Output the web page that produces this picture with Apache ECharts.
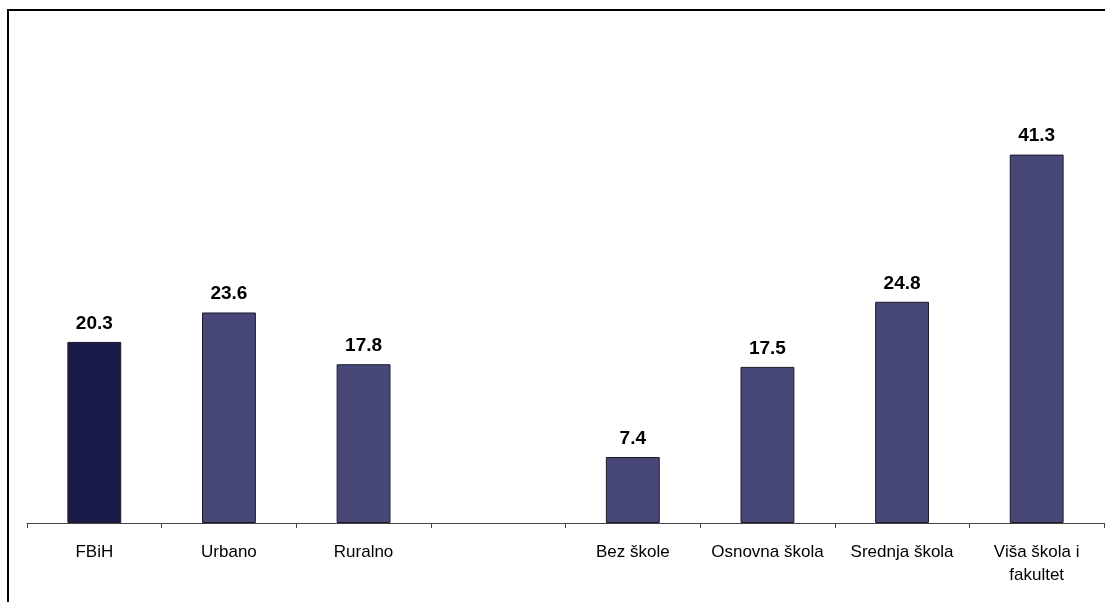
<!DOCTYPE html>
<html>
<head>
<meta charset="utf-8">
<script src="https://cdn.jsdelivr.net/npm/echarts@6/dist/echarts.min.js"></script>
<style>html,body{margin:0;padding:0;background:#fff;}#c{width:1105px;height:602px;}</style>
</head>
<body>
<div id="c"></div>
<script>
const categories = ["FBiH", "Urbano", "Ruralno", "", "Bez škole", "Osnovna škola", "Srednja škola", "Viša škola i\nfakultet"];
const values = [20.3, 23.6, 17.8, null, 7.4, 17.5, 24.8, 41.3];
const highlightIndex = 0;

const chart = echarts.init(document.getElementById('c'), null, {renderer: 'canvas'});
chart.setOption({
  animation: false,
  backgroundColor: '#fff',
  graphic: [{
    type: 'rect', shape: {x: 8, y: 10, width: 1300, height: 800},
    style: {fill: 'none', stroke: '#000', lineWidth: 2}, z: 100
  }],
  grid: {left: 27, right: 1, top: 77, bottom: 79, containLabel: false},
  xAxis: {
    type: 'category', data: categories,
    axisLine: {lineStyle: {color: '#444', width: 1}},
    axisTick: {show: true, length: 5, alignWithLabel: false, lineStyle: {color: '#444'}},
    axisLabel: {color: '#000', fontFamily: 'Liberation Sans, Arial', fontSize: 17, margin: 18, lineHeight: 23, interval: 0}
  },
  yAxis: {type: 'value', min: 0, max: 50, show: false, splitLine: {show: false}},
  series: [{
    type: 'bar', barWidth: '40%',
    data: values.map((v, i) => ({value: v, itemStyle: {color: i === highlightIndex ? '#1a1a48' : '#484878'}})),
    itemStyle: {borderColor: '#1a1a2a', borderWidth: 1},
    label: {show: true, position: 'top', distance: 9, color: '#000', fontWeight: 'bold', fontSize: 19, fontFamily: 'Liberation Sans, Arial', formatter: p => p.value.toFixed(1)}
  }]
});
</script>
</body>
</html>
